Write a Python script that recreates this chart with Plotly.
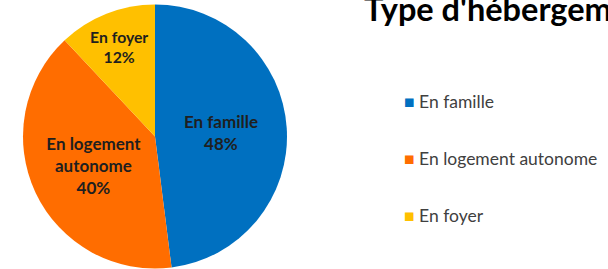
import plotly.graph_objects as go

categories = ["En famille", "En logement autonome", "En foyer"]
slice_labels = ["En famille", "En logement<br>autonome", "En foyer"]
values = [48, 40, 12]
colors = ["#0070C0", "#FF6D00", "#FFC000"]
title_text = "Type d'hébergement"

W, H = 608, 269

fig = go.Figure()
fig.add_trace(go.Pie(
    labels=categories,
    values=values,
    text=slice_labels,
    sort=False,
    direction="clockwise",
    rotation=0,
    marker=dict(colors=colors, line=dict(color="white", width=0)),
    texttemplate="<b>%{text}<br>%{percent:.0%}</b>",
    textposition="inside",
    insidetextorientation="horizontal",
    textfont=dict(family="Lato", size=17, color="#1f1f1f"),
    domain=dict(x=[23 / W, 287 / W], y=[0, 1 - 4 / H]),
    showlegend=False,
    hoverinfo="label+percent",
))

annotations = [dict(
    text="<b>" + title_text + "</b>", x=362 / W, y=1 + 13 / H, xref="paper", yref="paper",
    xanchor="left", yanchor="top", showarrow=False,
    font=dict(family="Lato", size=32.5, color="#000000"),
)]
legend_y = [101, 158, 215]
for cat, col, yy in zip(categories, colors, legend_y):
    annotations.append(dict(
        text="<span style='color:%s'>■</span> %s" % (col, cat),
        x=402 / W, y=1 - yy / H, xref="paper", yref="paper",
        xanchor="left", yanchor="middle", showarrow=False,
        font=dict(family="Lato", size=17.5, color="#404040"),
    ))

fig.update_layout(
    width=W, height=H,
    margin=dict(l=0, r=0, t=0, b=0),
    paper_bgcolor="white", plot_bgcolor="white",
    annotations=annotations,
    showlegend=False,
)

fig.write_html("out.html", config={"displayModeBar": False},
               post_script="document.body.style.margin='0';")
